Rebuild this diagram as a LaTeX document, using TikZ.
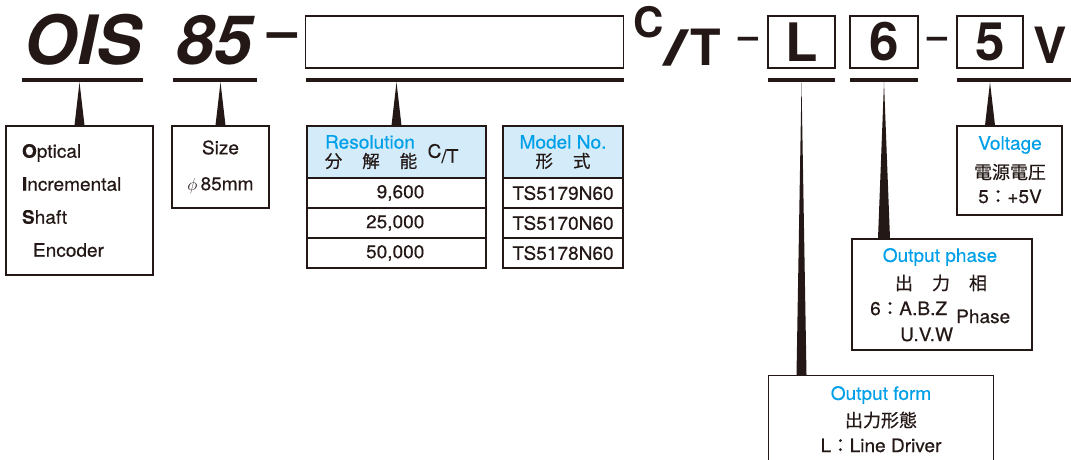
\documentclass[tikz,border=0pt]{standalone}
\usepackage{fontspec}
\setmainfont{TeX Gyre Heros}
\newfontfamily\bodyfont[FakeBold=0.4,FakeStretch=1.03]{TeX Gyre Heros}
\newfontfamily\cjk[FakeBold=0.5]{Noto Sans CJK JP}
\usepackage{xcolor}
\usepackage{tikz}
\usetikzlibrary{positioning,calc}

\definecolor{ink}{HTML}{231815}
\definecolor{skyblue}{HTML}{00A0E9}
\definecolor{headblue}{HTML}{D4ECF9}
\newcommand{\fs}[1]{\fontsize{#1}{#1}\selectfont}

\begin{document}
\begin{tikzpicture}[x=1pt,y=-1pt,every node/.style={text=ink}]
    \tikzstyle{codebox} = [rectangle, draw=ink, line width=1.3pt, minimum width=67pt, minimum height=52pt, inner sep=0pt, font=\fs{53}\bfseries]
    \tikzstyle{bar} = [rectangle, fill=ink, minimum height=4pt, inner sep=0pt]
    \tikzstyle{infobox} = [rectangle, draw=ink, line width=1.3pt, inner sep=0pt]
    \tikzstyle{cell} = [rectangle, draw=ink, line width=1.1pt, minimum height=30pt, inner sep=0pt]
    \tikzstyle{txt} = [font=\bodyfont\fs{18.5}, inner sep=0pt]
    \tikzstyle{jtxt} = [font=\fs{18}\cjk, inner sep=0pt]
    \tikzstyle{head} = [txt, text=skyblue]
    \tikzstyle{big} = [font=\fs{68}\bfseries\itshape, inner sep=0pt]
    \useasboundingbox (0,0) rectangle (1071,459);

    % model code
    \node [big, anchor=base] (ois) at (83,64) {OIS};
    \node [big, anchor=base] (dia) at (214,64) {85};
    \node [font=\fs{54}\bfseries, inner sep=0pt] (dasha) at (283,41.5) {–};
    \node [codebox, minimum width=318pt] (resbox) at (464.5,42) {};
    \node [inner sep=0pt, anchor=base west] (ct) at (633,65) {\fs{42}\bfseries\raisebox{28pt}{C}\fs{50}\scalebox{1.8}[1]{/}\kern2pt T};
    \node [font=\fs{36}\bfseries, inner sep=0pt] (dashb) at (748,42.5) {–};
    \node [codebox] (lbox) at (801.5,42) {L};
    \node [codebox, minimum width=68pt] (phbox) at (884,42) {6};
    \node [font=\fs{36}\bfseries, inner sep=0pt] (dashc) at (937.5,42.5) {–};
    \node [codebox, minimum width=66pt] (vbox) at (990,42) {5};
    \node [font=\fs{50}\bfseries, inner sep=0pt, anchor=base west] (volt) at (1033,63) {V};

    \node [bar, minimum width=121pt] (uois) at (82.5,80) {};
    \node [bar, minimum width=84pt] (udia) at (215,80) {};
    \node [bar, minimum width=318pt] (ures) at (464.5,80) {};
    \node [bar, minimum width=67pt] (ul) at (801.5,80) {};
    \node [bar, minimum width=68pt] (uph) at (884,80) {};
    \node [bar, minimum width=114pt] (uv) at (1014,80) {};

    % explanation boxes
    \node [infobox, minimum width=147pt, minimum height=149pt, text width=115pt, align=left, font=\bodyfont\fontsize{18.5}{33}\selectfont] (oisinfo) at (79.5,200.5)
        {{\bfseries O}ptical\\{\bfseries I}ncremental\\{\bfseries S}haft\\\hspace*{11pt}Encoder};
    \node [infobox, minimum width=97pt, minimum height=82pt, align=center, font=\bodyfont\fontsize{18.5}{36}\selectfont] (diainfo) at (220.5,167)
        {Size\\$\phi$\,85mm};

    \node [cell, fill=headblue, minimum width=179pt, minimum height=52pt] (reshead) at (396.5,152) {};
    \node [head] (resen) at (370,142) {Resolution};
    \node [jtxt, font=\fs{17.5}\cjk] (resjp) at (371,161) {分\hspace{20pt}解\hspace{20pt}能};
    \node [txt] (resct) at (443,153.5) {\raisebox{5pt}{C}/T};

    \node [cell, fill=headblue, minimum width=120pt, minimum height=52pt] (modhead) at (563,152) {};
    \node [head] (moden) at (563,142) {Model No.};
    \node [jtxt, font=\fs{17.5}\cjk] (modjp) at (563,161) {形\hspace{20pt}式};

    \foreach \v/\m [count=\i] in {{9,600}/TS5179N60,{25,000}/TS5170N60,{50,000}/TS5178N60} {
        \node [cell, minimum width=179pt] (res\i) at (396.5,{163+30*\i}) {};
        \node [txt, anchor=east] (resv\i) at ($(res\i.east)+(-62,0)$) {\v};
        \node [cell, minimum width=120pt] (mod\i) at (563,{163+30*\i}) {};
        \node [txt] (modv\i) at (mod\i) {\m};
    }

    \node [infobox, minimum width=105pt, minimum height=89pt] (voltinfo) at (1009.5,170.5) {};
    \node [head] (volten) at (1010,145) {Voltage};
    \node [jtxt] (voltjp) at (1010,172) {電源電圧};
    \node [txt, anchor=base] (voltval) at (1010,203) {5{\cjk：}+5V};

    \node [infobox, minimum width=180pt, minimum height=111pt] (phinfo) at (942,294.5) {};
    \node [head] (phen) at (940,257) {Output phase};
    \node [jtxt] (phjp) at (941,283) {出\hspace{19pt}力\hspace{19pt}相};
    \node [txt, anchor=base west] (phabz) at (870,315) {6{\cjk：}A.B.Z};
    \node [txt, anchor=base west] (phuvw) at (900,341) {U.V.W};
    \node [txt, anchor=base west] (phword) at (956,323) {Phase};

    \node [infobox, minimum width=225pt, minimum height=100pt, anchor=north west] (forminfo) at (768,375) {};
    \node [head] (formen) at (881,395) {Output form};
    \node [jtxt] (formjp) at (881,420) {出力形態};
    \node [txt, anchor=base] (formval) at (881,452) {L{\cjk：}Line Driver};

    % pointers
    \foreach \u/\b in {uois/oisinfo, udia/diainfo, ures/reshead} {
        \fill [ink] (\b.north |- \u.south) -- ($(\b.north)+(-5,0)$) -- ($(\b.north)+(5,0)$) -- cycle;
    }
    \coordinate (lfoot) at (ul.south |- forminfo.north);
    \coordinate (phfoot) at (uph.south |- phinfo.north);
    \coordinate (vtop) at (vbox.south |- uv.south);
    \coordinate (vfoot) at (vbox.south |- voltinfo.north);
    \fill [ink] (ul.south) -- ($(lfoot)+(-5,0)$) -- ($(lfoot)+(5,0)$) -- cycle;
    \fill [ink] (uph.south) -- ($(phfoot)+(-6,0)$) -- ($(phfoot)+(6,0)$) -- cycle;
    \fill [ink] (vtop) -- ($(vfoot)+(-5,0)$) -- ($(vfoot)+(5,0)$) -- cycle;
\end{tikzpicture}
\end{document}
